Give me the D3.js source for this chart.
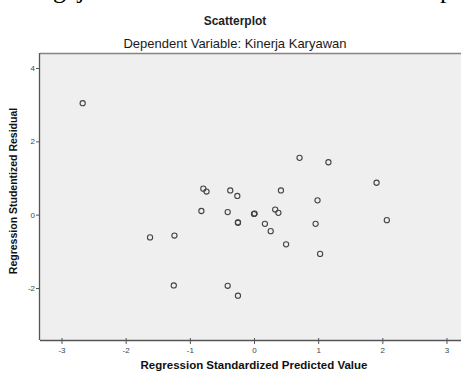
<!DOCTYPE html>
<html>
<head>
<meta charset="utf-8">
<script src="https://cdnjs.cloudflare.com/ajax/libs/d3/7.8.5/d3.min.js"></script>
<style>
  body { margin: 0; background: #fff; }
  svg text { font-family: "Liberation Sans", Arial, sans-serif; }
</style>
</head>
<body>
<div id="chart"></div>
<script>
// nilai yang dibaca dari gambar
const predicted = [-2.67, 0.71, 1.16, 1.91, -0.79, -0.74, -0.37, -0.26, 0.42, 0.99,
                   -0.82, -0.41, 0.00, 0.01, 0.33, 0.38, -0.25, -0.25, 0.17, 0.26,
                   0.96, 2.07, 0.50, 1.03, -0.41, -0.25, -1.62, -1.24, -1.25]
const residual  = [3.04, 1.55, 1.43, 0.87, 0.71, 0.63, 0.66, 0.51, 0.66, 0.39,
                   0.10, 0.07, 0.02, 0.03, 0.14, 0.05, -0.21, -0.22, -0.25, -0.45,
                   -0.25, -0.15, -0.81, -1.07, -1.94, -2.21, -0.62, -0.57, -1.93]
const xTicks = [-3, -2, -1, 0, 1, 2, 3]
const yTicks = [-2, 0, 2, 4]

const W = 461, H = 372
let svg = d3.select("#chart").append("svg")
  .attr("width", W)
  .attr("height", H)

// potongan teks dokumen di atas gambar (terpotong juga di gambar asli)
svg.append("text")
  .attr("x", 53).attr("y", -2)
  .style("font-family", "'Liberation Serif', serif")
  .style("font-size", "26px")
  .text("gejala")
svg.append("text")
  .attr("x", 440).attr("y", -2)
  .style("font-family", "'Liberation Serif', serif")
  .style("font-size", "26px")
  .text("p")

svg.append("text")
  .attr("x", 235).attr("y", 25)
  .attr("text-anchor", "middle")
  .style("font-size", "12px")
  .style("font-weight", "bold")
  .style("fill", "#222")
  .text("Scatterplot")
svg.append("text")
  .attr("x", 235).attr("y", 48)
  .attr("text-anchor", "middle")
  .style("font-size", "13px")
  .style("fill", "#1a1a1a")
  .text("Dependent Variable: Kinerja Karyawan")

const plotLeft = 40, plotTop = 53, plotBottom = 340

let x = d3.scaleLinear().domain([-3, 3]).range([61.5, 446.5])
let y = d3.scaleLinear().domain([-2, 4]).range([288, 68])

// latar plot
svg.append("rect")
  .attr("x", plotLeft).attr("y", plotTop)
  .attr("width", W - plotLeft + 5).attr("height", plotBottom - plotTop)
  .attr("fill", "#efefef")

svg.append("line")
  .attr("x1", plotLeft).attr("x2", W)
  .attr("y1", plotTop + 0.5).attr("y2", plotTop + 0.5)
  .attr("stroke", "#8a8088").attr("stroke-width", 1.5)

// sumbu
let xAxis = svg.append("g")
  .attr("transform", "translate(0," + plotBottom + ")")
  .call(d3.axisBottom(x).tickValues(xTicks).tickSize(4).tickSizeOuter(0)
    .tickFormat(function (d) { return String(d) }))
xAxis.select(".domain").attr("d", "M" + plotLeft + ",0.5H" + W).attr("stroke", "#555").attr("stroke-width", 1.3)
xAxis.selectAll(".tick line").attr("stroke", "#555").attr("y1", -2)
xAxis.selectAll(".tick text").attr("y", 7).style("font-size", "8px").style("fill", "#444")

let yAxis = svg.append("g")
  .attr("transform", "translate(" + plotLeft + ",0)")
  .call(d3.axisLeft(y).tickValues(yTicks).tickSize(4).tickSizeOuter(0)
    .tickFormat(function (d) { return String(d) }))
yAxis.select(".domain").attr("d", "M-0.5," + plotTop + "V" + plotBottom).attr("stroke", "#555").attr("stroke-width", 1.3)
yAxis.selectAll(".tick line").attr("stroke", "#555")
yAxis.selectAll(".tick text").attr("x", -5).style("font-size", "8px").style("fill", "#444")

svg.append("text")
  .attr("x", 254).attr("y", 369)
  .attr("text-anchor", "middle")
  .style("font-size", "11.5px")
  .style("font-weight", "bold")
  .style("fill", "#111")
  .text("Regression Standardized Predicted Value")

svg.append("text")
  .attr("transform", "translate(17,191) rotate(-90)")
  .attr("text-anchor", "middle")
  .style("font-size", "10.5px")
  .style("font-weight", "bold")
  .style("fill", "#111")
  .text("Regression Studentized Residual")

// titik
svg.append("g").selectAll("circle")
  .data(predicted)
  .enter()
  .append("circle")
  .attr("cx", function (d) { return x(d) })
  .attr("cy", function (d, i) { return y(residual[i]) })
  .attr("r", 2.6)
  .attr("fill", "none")
  .attr("stroke", "#444")
  .attr("stroke-width", 1.1)
</script>
</body>
</html>
